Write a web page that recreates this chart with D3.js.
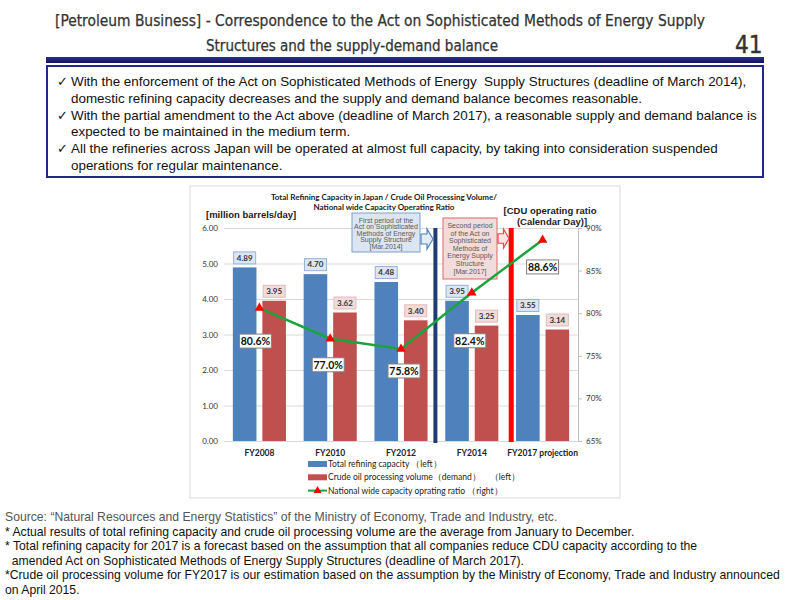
<!DOCTYPE html>
<html>
<head>
<meta charset="utf-8">
<title>Petroleum Business - refining capacity</title>
<script src="https://cdn.jsdelivr.net/npm/d3@7"></script>
<style>
body { margin: 0; background: #fff; }
svg { display: block; }
.cond { font-family: "DejaVu Sans Condensed", "DejaVu Sans"; font-stretch: condensed; }
.arial { font-family: "Liberation Sans", Arial, sans-serif; }
.cal { font-family: Lato, "Open Sans", sans-serif; }
</style>
</head>
<body>
<svg id="slide" width="800" height="600"></svg>
<script>
// --- data ---
var categories = ["FY2008", "FY2010", "FY2012", "FY2014", "FY2017 projection"];
var capacity   = [4.89, 4.70, 4.48, 3.95, 3.55];   // total refining capacity (left)
var processing = [3.95, 3.62, 3.40, 3.25, 3.14];   // crude oil processing volume (left)
var ratio      = [80.6, 77.0, 75.8, 82.4, 88.6];   // operating ratio % (right)
var leftTicks  = [0, 1, 2, 3, 4, 5, 6];
var rightTicks = [65, 70, 75, 80, 85, 90];
var legendNames = [
	"Total refining capacity （left）",
	"Crude oil processing volume（demand）　（left）",
	"National wide capacity oprating ratio （right）"
];

// --- texts ---
var titleLines = [
	"[Petroleum Business] - Correspondence to the Act on Sophisticated Methods of Energy Supply",
	"Structures and the supply-demand balance"
];
var bullets = [
	["✓", "With the enforcement of the Act on Sophisticated Methods of Energy  Supply Structures (deadline of March 2014),"],
	["",  "domestic refining capacity decreases and the supply and demand balance becomes reasonable."],
	["✓", "With the partial amendment to the Act above (deadline of March 2017), a reasonable supply and demand balance is"],
	["",  "expected to be maintained in the medium term."],
	["✓", "All the refineries across Japan will be operated at almost full capacity, by taking into consideration suspended"],
	["",  "operations for regular maintenance."]
];
var notes = [
	"Source: \u201cNatural Resources and Energy Statistics\u201d of the Ministry of Economy, Trade and Industry, etc.",
	"* Actual results of total refining capacity and crude oil processing volume are the average from January to December.",
	"* Total refining capacity for 2017 is a forecast based on the assumption that all companies reduce CDU capacity according to the",
	"  amended Act on Sophisticated Methods of Energy Supply Structures (deadline of March 2017).",
	"*Crude oil processing volume for FY2017 is our estimation based on the assumption by the Ministry of Economy, Trade and Industry announced",
	"on April 2015."
];
var period1 = ["First period of the", "Act on Sophisticated", "Methods of Energy", "Supply Structure", "[Mar.2014]"];
var period2 = ["Second period", "of the Act on", "Sophisticated", "Methods of", "Energy Supply", "Structure", "[Mar.2017]"];

// label nudges for the ratio boxes (px, relative to the point)
var ratioLabelShift = [[-4, 33], [-2, 26], [3, 22], [-2, 48], [0, 27]];

var svg = d3.select("#slide");

// ---------- header ----------
svg.append("text").attr("class", "cond")
	.attr("x", 55).attr("y", 26)
	.attr("font-size", 15.5).attr("fill", "#333")
	.attr("stroke", "#333").attr("stroke-width", 0.25)
	.attr("textLength", 650).attr("lengthAdjust", "spacingAndGlyphs")
	.text(titleLines[0]);
svg.append("text").attr("class", "cond")
	.attr("x", 206).attr("y", 51)
	.attr("font-size", 15.5).attr("fill", "#333")
	.attr("stroke", "#333").attr("stroke-width", 0.25)
	.attr("textLength", 292).attr("lengthAdjust", "spacingAndGlyphs")
	.text(titleLines[1]);
svg.append("text").attr("class", "cond")
	.attr("x", 735).attr("y", 53)
	.attr("font-size", 24).attr("fill", "#333")
	.attr("stroke", "#333").attr("stroke-width", 0.4)
	.text("41");

var grad = svg.append("defs").append("linearGradient")
	.attr("id", "bar").attr("x1", 0).attr("x2", 0).attr("y1", 0).attr("y2", 1);
grad.append("stop").attr("offset", 0).attr("stop-color", "#2a2f8c");
grad.append("stop").attr("offset", 1).attr("stop-color", "#10135a");
svg.append("rect").attr("x", 46).attr("y", 57).attr("width", 718).attr("height", 6).attr("fill", "url(#bar)");

// bullet box
svg.append("rect").attr("x", 47).attr("y", 66).attr("width", 716).attr("height", 111)
	.attr("fill", "#fff").attr("stroke", "#23278a").attr("stroke-width", 2);

var bl = svg.append("g").attr("class", "arial").attr("font-size", 13.4).attr("fill", "#111");
bullets.forEach(function(b, i) {
	var yy = 86 + i * 16.8;
	if (b[0]) bl.append("text").attr("x", 57).attr("y", yy).attr("font-size", 13).text(b[0]);
	bl.append("text").attr("x", 71).attr("y", yy).attr("xml:space", "preserve").text(b[1]);
});

// ---------- chart ----------
svg.append("rect").attr("x", 190).attr("y", 186).attr("width", 430).attr("height", 312)
	.attr("fill", "#fff").attr("stroke", "#d9d9d9");

var x0 = d3.scaleBand().domain(categories).range([224, 578]).paddingInner(0.25).paddingOuter(0.125);
var x1 = d3.scaleBand().domain(["cap", "proc"]).range([0, x0.bandwidth()]).paddingInner(0.2);
var y = d3.scaleLinear().domain([0, 6]).range([441, 228]);
var yR = d3.scaleLinear().domain([65, 90]).range([441, 228]);
var cx = function(c) { return x0(c) + x0.bandwidth() / 2; };
var edge = function(c) { return x0(c) - x0.step() * x0.paddingInner() / 2; };

// gridlines
svg.append("g").attr("transform", "translate(224,0)")
	.call(d3.axisLeft(y).tickValues(leftTicks).tickSize(-354).tickFormat(""))
	.call(function(g) {
		g.select(".domain").remove();
		g.selectAll("line").attr("stroke", "#d9d9d9");
	});

// left axis labels
svg.append("g").attr("class", "cal").attr("transform", "translate(224,0)")
	.call(d3.axisLeft(y).tickValues(leftTicks).tickSize(0).tickPadding(6).tickFormat(d3.format(".2f")))
	.call(function(g) {
		g.select(".domain").remove();
		g.selectAll("text").attr("font-size", 8).attr("fill", "#333").attr("font-family", null);
	});

// right axis
svg.append("g").attr("class", "cal").attr("transform", "translate(578,0)")
	.call(d3.axisRight(yR).tickValues(rightTicks).tickSize(4).tickPadding(4).tickFormat(function(d) { return d + "%"; }))
	.call(function(g) {
		g.select(".domain").attr("stroke", "#bfbfbf");
		g.selectAll("line").attr("stroke", "#bfbfbf");
		g.selectAll("text").attr("font-size", 8).attr("fill", "#333").attr("font-family", null);
	});

// x axis labels
svg.append("g").attr("class", "cal").attr("transform", "translate(0,441)")
	.call(d3.axisBottom(x0).tickSize(0).tickPadding(9))
	.call(function(g) {
		g.select(".domain").remove();
		g.selectAll("text").attr("font-size", 8.5).attr("font-weight", "bold").attr("fill", "#222").attr("font-family", null);
	});

// bars
var rows = categories.map(function(c, i) { return { c: c, cap: capacity[i], proc: processing[i], r: ratio[i], i: i }; });
var barFill = { cap: "#4f81bd", proc: "#c0504d" };
var boxFill = { cap: "#dce6f2", proc: "#f2dcdb" };
var boxLine = { cap: "#95b3d7", proc: "#e6b9b8" };

["cap", "proc"].forEach(function(k) {
	svg.append("g").selectAll("rect").data(rows).join("rect")
		.attr("x", function(d) { return x0(d.c) + x1(k); })
		.attr("y", function(d) { return y(d[k]); })
		.attr("width", x1.bandwidth())
		.attr("height", function(d) { return y(0) - y(d[k]); })
		.attr("fill", barFill[k]);

	var lab = svg.append("g").attr("class", "cal").selectAll("g").data(rows).join("g")
		.attr("transform", function(d) {
			return "translate(" + (x0(d.c) + x1(k) + x1.bandwidth() / 2) + "," + (y(d[k]) - 9.5) + ")";
		});
	lab.append("rect").attr("x", -11).attr("y", -6).attr("width", 22).attr("height", 12)
		.attr("fill", boxFill[k]).attr("stroke", boxLine[k]);
	lab.append("text").attr("text-anchor", "middle").attr("dy", "0.35em")
		.attr("font-size", 8).attr("font-weight", "bold").attr("fill", "#333")
		.text(function(d) { return d[k].toFixed(2); });
});

// period separators
var sep1 = edge(categories[3]) - 1;
var sep2 = edge(categories[4]) + 4;
svg.append("line").attr("x1", sep1).attr("x2", sep1).attr("y1", y(6)).attr("y2", y(0) + 2)
	.attr("stroke", "#1f3d73").attr("stroke-width", 4);
svg.append("line").attr("x1", sep2).attr("x2", sep2).attr("y1", y(6)).attr("y2", y(0) + 1)
	.attr("stroke", "#ff0000").attr("stroke-width", 5);

// period boxes
function periodBox(lines, x, yTop, w, h, fill, stroke, lh) {
	svg.append("rect").attr("x", x).attr("y", yTop).attr("width", w).attr("height", h)
		.attr("fill", fill).attr("stroke", stroke);
	var t = svg.append("text").attr("class", "arial").attr("font-size", 7).attr("fill", "#595959")
		.attr("text-anchor", "middle");
	lines.forEach(function(s, i) {
		t.append("tspan").attr("x", x + w / 2).attr("y", yTop + 10 + i * lh).text(s);
	});
}
periodBox(period1, 352, 213, 68, 39, "#dce6f2", "#7f9fc8", 6.4);
periodBox(period2, 443, 218, 54, 61, "#f2dcdb", "#e06666", 7.6);

function blockArrow(x, yTop, w, h, fill, stroke) {
	var p = d3.path();
	p.moveTo(x, yTop + h * 0.25);
	p.lineTo(x + w * 0.5, yTop + h * 0.25);
	p.lineTo(x + w * 0.5, yTop);
	p.lineTo(x + w, yTop + h / 2);
	p.lineTo(x + w * 0.5, yTop + h);
	p.lineTo(x + w * 0.5, yTop + h * 0.75);
	p.lineTo(x, yTop + h * 0.75);
	p.closePath();
	svg.append("path").attr("d", p.toString()).attr("fill", fill).attr("stroke", stroke).attr("stroke-width", 1.2);
}
blockArrow(421, 229, 12, 20, "#e4ecf7", "#4f81bd");
blockArrow(498, 229, 11, 19, "#fbe4e4", "#ff4040");

// ratio line
var line = d3.line().x(function(d) { return cx(d.c); }).y(function(d) { return yR(d.r); });
svg.append("path").datum(rows).attr("d", line)
	.attr("fill", "none").attr("stroke", "#1ba33d").attr("stroke-width", 2.5);
svg.append("g").selectAll("path").data(rows).join("path")
	.attr("transform", function(d) { return "translate(" + cx(d.c) + "," + yR(d.r) + ")"; })
	.attr("d", d3.symbol(d3.symbolTriangle, 40))
	.attr("fill", "#ff0000");

// ratio labels
var rl = svg.append("g").attr("class", "cal").selectAll("g").data(rows).join("g")
	.attr("transform", function(d) {
		var s = ratioLabelShift[d.i];
		return "translate(" + (cx(d.c) + s[0]) + "," + (yR(d.r) + s[1]) + ")";
	});
rl.append("rect").attr("x", -16).attr("y", -7).attr("width", 32).attr("height", 14)
	.attr("fill", "#fff").attr("stroke", "#808080");
rl.append("text").attr("text-anchor", "middle").attr("dy", "0.36em")
	.attr("font-size", 10.5).attr("font-weight", "bold").attr("fill", "#111")
	.text(function(d) { return d.r.toFixed(1) + "%"; });

// chart titles
var ct = svg.append("text").attr("class", "cal").attr("text-anchor", "middle")
	.attr("font-size", 8).attr("font-weight", "bold").attr("fill", "#222");
ct.append("tspan").attr("x", 384).attr("y", 200).text("Total Refining Capacity in Japan / Crude Oil Processing Volume/");
ct.append("tspan").attr("x", 384).attr("y", 210).text("National wide Capacity Operating Ratio");

svg.append("text").attr("class", "arial").attr("x", 206).attr("y", 218)
	.attr("font-size", 9.5).attr("font-weight", "bold").attr("fill", "#222")
	.text("[million barrels/day]");
var cdu = svg.append("text").attr("class", "arial").attr("text-anchor", "middle")
	.attr("font-size", 9.5).attr("font-weight", "bold").attr("fill", "#222");
cdu.append("tspan").attr("x", 550).attr("y", 214).text("[CDU operating ratio");
cdu.append("tspan").attr("x", 552).attr("y", 225).text("(Calendar Day)]");

// legend
var lg = svg.append("g").attr("class", "cal").attr("font-size", 8.5).attr("fill", "#222");
legendNames.forEach(function(n, i) {
	var yy = 464 + i * 13.3;
	if (i < 2) {
		lg.append("rect").attr("x", 308).attr("y", yy - 3).attr("width", 19).attr("height", 6)
			.attr("fill", i === 0 ? barFill.cap : barFill.proc);
	} else {
		lg.append("line").attr("x1", 308).attr("x2", 327).attr("y1", yy).attr("y2", yy)
			.attr("stroke", "#1ba33d").attr("stroke-width", 2);
		lg.append("path").attr("transform", "translate(317.5," + yy + ")")
			.attr("d", d3.symbol(d3.symbolTriangle, 28)).attr("fill", "#ff0000");
	}
	lg.append("text").attr("x", 328).attr("y", yy).attr("dy", "0.35em").text(n);
});

// ---------- footnotes ----------
var nt = svg.append("g").attr("class", "arial").attr("font-size", 12.2);
notes.forEach(function(n, i) {
	nt.append("text").attr("x", 5).attr("y", 521 + i * 14.6)
		.attr("fill", i === 0 ? "#555" : "#111")
		.attr("xml:space", "preserve")
		.text(n);
});
</script>
</body>
</html>
